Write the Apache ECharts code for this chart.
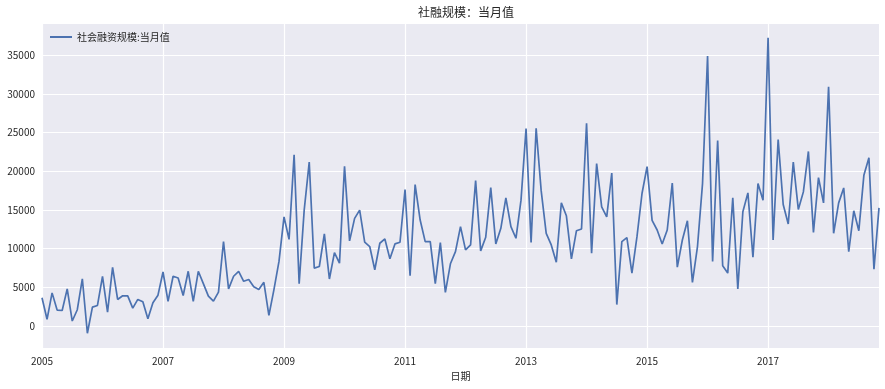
<!DOCTYPE html>
<html>
<head>
<meta charset="utf-8">
<script src="https://cdn.jsdelivr.net/npm/echarts@6/dist/echarts.min.js"></script>
<style>html,body{margin:0;padding:0;background:#fff;}#c{width:885px;height:389px;}</style>
</head>
<body>
<div id="c"></div>
<script>
const title = '社融规模：当月值';
const seriesName = '社会融资规模:当月值';
const xName = '日期';
const startYear = 2005;
const v2005 = [3640, 860, 4280, 2060, 2000, 4800, 640, 2100, 6100, -940, 2440, 2650];
const v2006 = [6400, 1800, 7580, 3430, 3900, 3900, 2300, 3430, 3130, 940, 3000, 3980];
const v2007 = [6980, 3170, 6430, 6210, 3940, 7070, 3170, 7070, 5480, 3860, 3210, 4370];
const v2008 = [10920, 4800, 6430, 7070, 5780, 6000, 5060, 4710, 5650, 1370, 4710, 8350];
const v2009 = [14100, 11200, 22150, 5470, 14980, 21190, 7480, 7690, 11900, 6070, 9490, 8130];
const v2010 = [20640, 11000, 13910, 14980, 10830, 10270, 7270, 10700, 11250, 8680, 10610, 10830];
const v2011 = [17640, 6490, 18280, 13700, 10900, 10900, 5470, 10780, 4350, 8040, 9620, 12840];
const v2012 = [9840, 10480, 18800, 9710, 11470, 17900, 10610, 12630, 16560, 12840, 11340, 16270];
const v2013 = [25530, 10800, 25570, 17500, 11980, 10480, 8250, 15920, 14250, 8680, 12320, 12540];
const v2014 = [26210, 9410, 20990, 15410, 14120, 19780, 2765, 10900, 11420, 6840, 11550, 17130];
const v2015 = [20600, 13660, 12410, 10610, 12410, 18490, 7610, 11120, 13610, 5640, 10270, 18410];
const v2016 = [34910, 8340, 23980, 7780, 6840, 16570, 4780, 14770, 17210, 8890, 18410, 16270];
const v2017 = [37270, 11120, 24110, 15710, 13180, 21190, 15070, 17340, 22570, 12110, 19190, 15920];
const v2018 = [30930, 11980, 15920, 17850, 9620, 14890, 12320, 19480, 21760, 7350, 15280];
const yearTickLabels = ['2005', '2007', '2009', '2011', '2013', '2015', '2017'];

const values = [].concat(v2005, v2006, v2007, v2008, v2009, v2010, v2011, v2012, v2013, v2014, v2015, v2016, v2017, v2018);
const categories = values.map((_, i) => {
  const y = startYear + Math.floor(i / 12);
  const m = (i % 12) + 1;
  return y + '-' + (m < 10 ? '0' + m : m);
});
const dataMin = Math.min(...values), dataMax = Math.max(...values);
const pad = (dataMax - dataMin) * 0.05;

const font = '"Noto Sans CJK SC", "Noto Sans", sans-serif';
const chart = echarts.init(document.getElementById('c'));
const isTick = (idx, val) => {
  const s = String(val);
  return s.endsWith('-01') && yearTickLabels.includes(s.slice(0, 4));
};
chart.setOption({
  animation: false,
  backgroundColor: '#ffffff',
  textStyle: { fontFamily: font },
  title: {
    text: title, left: 461, textAlign: 'center', top: 1,
    textStyle: { fontSize: 12, fontWeight: 'normal', color: '#262626', fontFamily: font }
  },
  legend: {
    left: 45, top: 27, icon: 'rect', itemWidth: 22, itemHeight: 2, itemGap: 7,
    textStyle: { fontSize: 10, color: '#262626', fontFamily: font }
  },
  grid: { left: 42, right: 6, top: 23, bottom: 41, containLabel: false, show: true, backgroundColor: '#EAEAF2', borderWidth: 0 },
  xAxis: {
    type: 'category', data: categories, boundaryGap: false,
    name: xName, nameLocation: 'middle', nameGap: 23,
    nameTextStyle: { fontSize: 10, color: '#262626', fontFamily: font },
    axisLine: { show: false }, axisTick: { show: false },
    axisLabel: { interval: isTick, formatter: v => v.slice(0, 4), fontSize: 10, color: '#262626', margin: 8, fontFamily: font },
    splitLine: { show: true, interval: isTick, lineStyle: { color: '#ffffff', width: 1.2 } }
  },
  yAxis: {
    type: 'value', min: Math.round(dataMin - pad), max: Math.round(dataMax + pad), splitNumber: 8,
    axisLine: { show: false }, axisTick: { show: false },
    axisLabel: {
      fontSize: 10, color: '#262626', margin: 7, fontFamily: font, showMinLabel: false, showMaxLabel: false,
      formatter: v => (v % 5000 === 0 ? String(v) : '')
    },
    splitLine: { show: true, lineStyle: { color: '#ffffff', width: 1.2 } }
  },
  series: [{
    name: seriesName, type: 'line', data: values, showSymbol: false, symbol: 'none',
    lineStyle: { color: '#4C72B0', width: 1.7 }, itemStyle: { color: '#4C72B0' }
  }]
});
</script>
</body>
</html>
